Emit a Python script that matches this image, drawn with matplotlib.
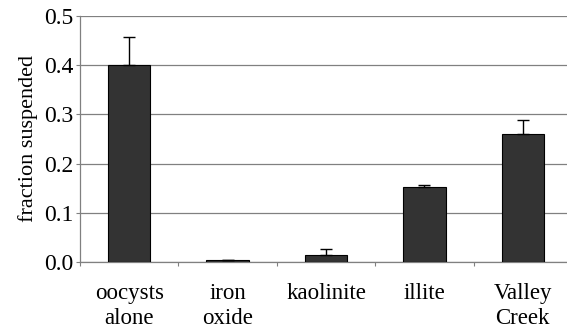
import numpy as np
import matplotlib
matplotlib.use('Agg')
import matplotlib.pyplot as plt

plt.rcParams.update({
    'font.family': ['Liberation Serif', 'DejaVu Serif'],
    'font.size': 16,
})

categories = ['oocysts\nalone', 'iron\noxide', 'kaolinite', 'illite', 'Valley\nCreek']
fraction = [0.40, 0.005, 0.014, 0.153, 0.26]
err_upper = [0.058, 0.0, 0.012, 0.004, 0.028]

fig = plt.figure(figsize=(5.67, 3.25), dpi=100)
ax = fig.add_axes([80 / 567, 63 / 325, 492 / 567, 246 / 325])

x = np.arange(len(categories))
ax.bar(x, fraction, width=0.43, color='#333333', edgecolor='black', linewidth=0.8, zorder=3)
ax.errorbar(x, fraction, yerr=[np.zeros(len(x)), err_upper], fmt='none',
            ecolor='black', elinewidth=1.0, capsize=4, capthick=1.0, zorder=4)

ax.set_xlim(-0.5, len(categories) - 0.5)
ax.set_ylim(0, 0.5)
ax.set_yticks(np.arange(0, 0.51, 0.1))
ax.set_yticklabels([f'{v:.1f}' for v in np.arange(0, 0.51, 0.1)], fontsize=17)
ax.yaxis.grid(True, color='#808080', linewidth=0.9, zorder=0)
ax.set_axisbelow(True)

# category labels sit between boundary ticks
ax.set_xticks(np.arange(len(categories) + 1) - 0.5)
ax.set_xticklabels([])
ax.set_xticks(x, minor=True)
ax.set_xticklabels(categories, minor=True, fontsize=16.5, linespacing=1.25)
ax.tick_params(axis='x', which='minor', length=0, pad=15)
ax.tick_params(axis='x', which='major', length=3, color='#808080')
ax.tick_params(axis='y', length=3, color='#808080', pad=2)

for side in ['top', 'right']:
    ax.spines[side].set_visible(False)
for side in ['left', 'bottom']:
    ax.spines[side].set_color('#808080')
    ax.spines[side].set_linewidth(0.9)

ax.set_ylabel('fraction suspended', fontsize=16, labelpad=4)

fig.savefig('out.png', dpi=100)
